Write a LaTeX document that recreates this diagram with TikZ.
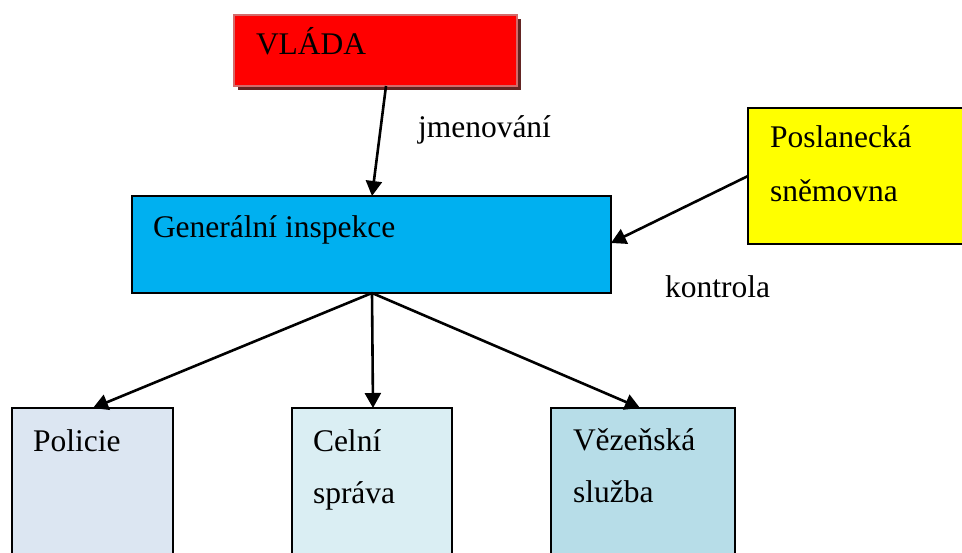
\documentclass[tikz,border=0pt]{standalone}
\usepackage{fontspec}
\setmainfont{Liberation Serif}
\usetikzlibrary{arrows.meta}
\definecolor{vladared}{HTML}{FF0000}
\definecolor{vladaborder}{HTML}{D46A6A}
\definecolor{vladashadow}{HTML}{632523}
\definecolor{gicyan}{HTML}{00B0F0}
\definecolor{psyellow}{HTML}{FFFF00}
\definecolor{polfill}{HTML}{DCE6F2}
\definecolor{celfill}{HTML}{DAEEF3}
\definecolor{vezfill}{HTML}{B7DDE8}
\tikzset{
  box/.style={draw=black, line width=1.5pt, rectangle, anchor=north west, inner sep=0pt, outer sep=0pt},
  txt/.style={anchor=base west, inner sep=0pt, outer sep=0pt, font=\fontsize{31.5}{40}\selectfont},
  conn/.style={line width=2.6pt, -{Triangle[length=15pt,width=16pt]}},
}
\begin{document}
\begin{tikzpicture}[x=1pt,y=-1pt]
\clip (0,0) rectangle (962,553);
\fill[white] (0,0) rectangle (962,553);
% VLADA with shadow
\fill[vladashadow] (238,19) rectangle (521,90);
\node[box, draw=vladaborder, line width=2.5pt, fill=vladared, minimum width=283pt, minimum height=71pt] (vlada) at (234,15) {};
\node[txt] (tvlada) at (256,55) {VLÁDA};
% Generalni inspekce
\node[box, fill=gicyan, minimum width=479pt, minimum height=97pt] (gi) at (132,196) {};
\node[txt] (tgi) at (153,238) {Generální inspekce};
% Poslanecka snemovna
\node[box, fill=psyellow, minimum width=230pt, minimum height=136pt] (ps) at (748,108) {};
\node[txt] (tps1) at (770,148) {Poslanecká};
\node[txt] (tps2) at (770,202) {sněmovna};
% bottom boxes
\node[box, fill=polfill, minimum width=161pt, minimum height=170pt] (pol) at (12,408) {};
\node[txt] (tpol) at (33,451) {Policie};
\node[box, fill=celfill, minimum width=160pt, minimum height=170pt] (cel) at (292,408) {};
\node[txt] (tcel1) at (313,451) {Celní};
\node[txt] (tcel2) at (313,503) {správa};
\node[box, fill=vezfill, minimum width=184pt, minimum height=170pt] (vez) at (551,408) {};
\node[txt] (tvez1) at (573,450) {Vězeňská};
\node[txt] (tvez2) at (573,502) {služba};
% labels
\node[txt] (ljm) at (418,138) {jmenování};
\node[txt] (lko) at (665,298) {kontrola};
% connectors
\draw[conn] ([xshift=152pt]vlada.south west) -- ([xshift=240pt]gi.north west);
\draw[conn] ([yshift=-68pt]ps.north west) -- ([yshift=-47pt]gi.north east);
\draw[conn] ([xshift=240pt]gi.south west) -- ([xshift=81pt]pol.north west);
\draw[conn] ([xshift=240pt]gi.south west) -- ([xshift=81pt]cel.north west);
\draw[conn] ([xshift=240pt]gi.south west) -- ([xshift=89pt]vez.north west);
\end{tikzpicture}
\end{document}
